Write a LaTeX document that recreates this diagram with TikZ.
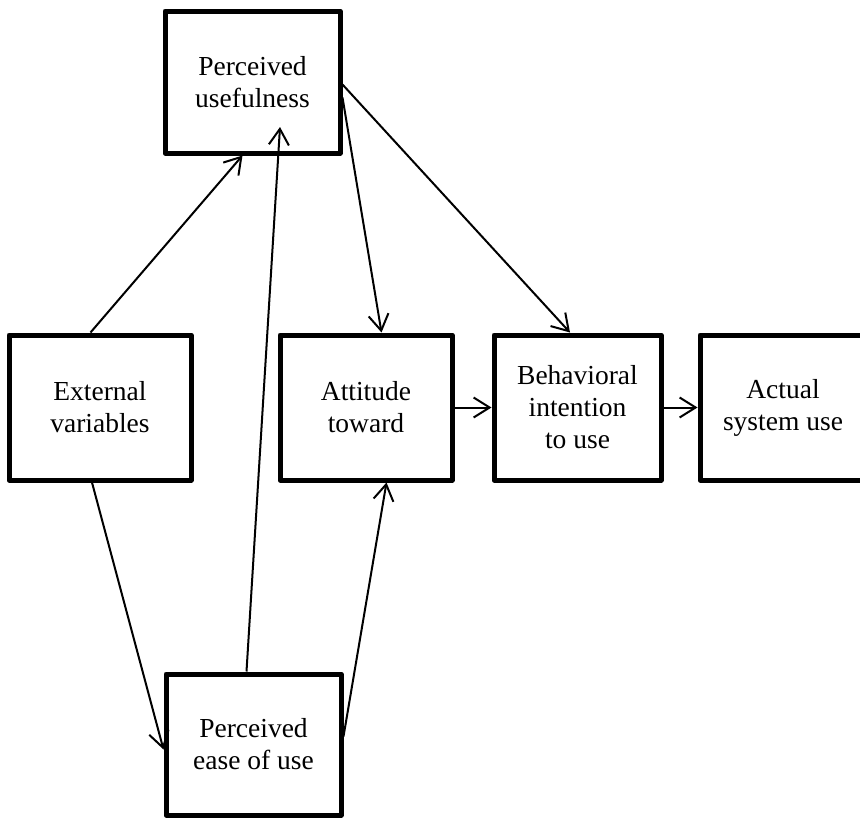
\documentclass[tikz,border=0pt]{standalone}
\usepackage{fontspec}
\setmainfont{Liberation Serif}
\usetikzlibrary{arrows.meta,calc}
\tikzset{
  box/.style={draw, line width=5pt, inner sep=0pt, outer sep=2.5pt, align=center,
    font=\fontsize{27.5}{32}\selectfont, line join=round},
  conn/.style={line width=2pt, -{Straight Barb[length=16pt,width=20pt,line width=2pt]}}
}
\begin{document}
\begin{tikzpicture}[x=1pt,y=-1pt]
\useasboundingbox (0,0) rectangle (860,819);
\fill[white] (0,0) rectangle (860,819);
\node[box, minimum width=175pt, minimum height=142pt] (pu) at (252.5,82) {Perceived\\usefulness};
\node[box, minimum width=182pt, minimum height=145pt] (ev) at (100,407.5) {External\\variables};
\node[box, minimum width=172pt, minimum height=145pt] (att) at (366,407.5) {Attitude\\toward};
\node[box, minimum width=167pt, minimum height=145pt] (bi) at (577.5,407.5) {Behavioral\\intention\\to use};
\node[box, minimum width=166pt, minimum height=145pt] (asu) at (783,407.5) {Actual\\system use};
\node[box, minimum width=175pt, minimum height=141pt] (peu) at (253.5,744.5) {Perceived\\ease of use};
\coordinate (puin) at ($(pu.south west)+(117.5,-28.5)$);
\draw[conn] ($(ev.north west)+(84,0)$) -- ($(pu.south west)+(80,0)$);
\draw[conn] ($(peu.north west)+(83,0)$) -- (puin);
\draw[conn] ($(pu.north east)+(0,89)$) -- ($(att.north west)+(104,0)$);
\draw[conn] ($(pu.north east)+(0,76)$) -- ($(bi.north west)+(78.5,0)$);
\draw[conn] (att.east) -- (bi.west);
\draw[conn] (bi.east) -- (asu.west);
\draw[conn] ($(ev.south west)+(85.5,0)$) -- ($(peu.north west)+(0,78)$);
\draw[conn] ($(peu.north east)+(0,65)$) -- ($(att.south west)+(109,0)$);
\end{tikzpicture}
\end{document}
